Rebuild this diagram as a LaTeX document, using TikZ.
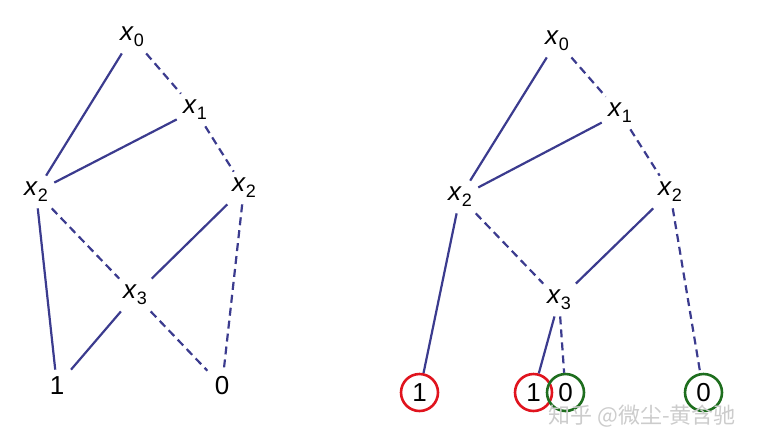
\documentclass[tikz,border=0pt]{standalone}
\usepackage{fontspec}
\setmainfont{Liberation Sans}
\newfontfamily\cjkfont{Noto Sans CJK SC}
\usepackage{xcolor}
\usetikzlibrary{positioning}
\definecolor{edgeblue}{HTML}{3B3B8E}
\definecolor{termred}{HTML}{E0141E}
\definecolor{termgreen}{HTML}{1E6E1E}
\newcommand{\xvar}[1]{\textit{x}\raisebox{-0.45ex}{\fontsize{9}{10}\selectfont #1}}

\begin{document}
\begin{tikzpicture}[
  x=0.5pt, y=-0.5pt,
  font=\fontsize{13}{15}\selectfont,
  var/.style={inner sep=3pt},
  term/.style={inner sep=3.5pt},
  hi/.style={draw=edgeblue, line width=1.1pt},
  lo/.style={draw=edgeblue, line width=1.1pt, dash pattern=on 4pt off 2.5pt},
  one/.style={circle, draw=termred, line width=1.3pt, minimum size=18.5pt, inner sep=0pt},
  zero/.style={circle, draw=termgreen, line width=1.3pt, minimum size=18.5pt, inner sep=0pt}
]
\useasboundingbox (0,0) rectangle (758,445);

% left diagram
\node[var] (a0) at (132,37) {\xvar{0}};
\node[var] (a1) at (195,110) {\xvar{1}};
\node[var] (a2) at (36,192) {\xvar{2}};
\node[var] (a2r) at (244,188) {\xvar{2}};
\node[var] (a3) at (135,295) {\xvar{3}};
\node[term] (aone) at (57,386) {1};
\node[term] (azero) at (222,386) {0};

\draw[hi] (a0) -- (a2);
\draw[lo] (a0) -- (a1);
\draw[hi] (a1) -- (a2);
\draw[lo] (a1) -- (a2r);
\draw[hi] (a2) -- (aone);
\draw[lo] (a2) -- (a3);
\draw[hi] (a2r) -- (a3);
\draw[lo] (a2r) -- (azero);
\draw[hi] (a3) -- (aone);
\draw[lo] (a3) -- (azero);

% right diagram
\node[var] (b0) at (557,41) {\xvar{0}};
\node[var] (b1) at (620,113) {\xvar{1}};
\node[var] (b2) at (460,197) {\xvar{2}};
\node[var] (b2r) at (670,192) {\xvar{2}};
\node[var] (b3) at (559,300) {\xvar{3}};
\node[one] (bone) at (419.5,392.5) {1};
\node[one] (bonex) at (533.5,392.5) {1};
\node[zero] (bzerox) at (565.5,392.5) {0};
\node[zero] (bzero) at (703.5,392.5) {0};

\draw[hi] (b0) -- (b2);
\draw[lo] (b0) -- (b1);
\draw[hi] (b1) -- (b2);
\draw[lo] (b1) -- (b2r);
\draw[hi] (b2) -- (bone);
\draw[lo] (b2) -- (b3);
\draw[hi] (b2r) -- (b3);
\draw[lo] (b2r) -- (bzero);
\draw[hi] (b3) -- (bonex);
\draw[lo] (b3) -- (bzerox);

\node[text=gray!40, font=\cjkfont\fontsize{11}{12}\selectfont] (wm) at (642,416) {知乎 @微尘-黄含驰};
\end{tikzpicture}
\end{document}
